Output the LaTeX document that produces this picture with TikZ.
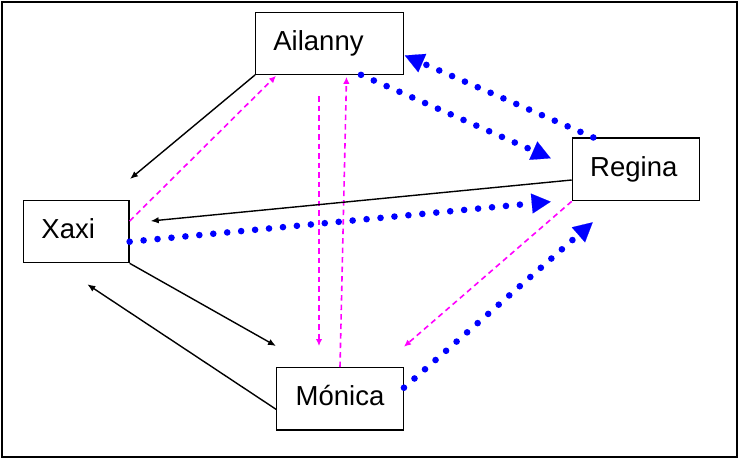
\documentclass[tikz,border=0pt]{standalone}
\usepackage{fontspec}
\setmainfont{Liberation Sans}
\usetikzlibrary{arrows.meta}
\definecolor{lnkmagenta}{RGB}{255,0,255}
\definecolor{lnkblue}{RGB}{0,0,255}

\begin{document}
\begin{tikzpicture}[x=1pt,y=-1pt,
    main node/.style={rectangle, draw, line width=1.2pt, inner sep=0pt},
    name text/.style={font=\fontsize{27.5}{33}\selectfont, text height=20pt, text depth=6pt, inner sep=0pt},
    black link/.style={line width=1.4pt, -{Latex[length=8pt,width=6.5pt]}},
    pink link/.style={lnkmagenta, line width=1.6pt, dash pattern=on 5.5pt off 4pt, -{Latex[length=7pt,width=6.5pt]}},
    dot link/.style={lnkblue, line width=6.6pt, line cap=round, dash pattern=on 0pt off 14pt,
                     -{Triangle[length=19pt,width=20pt,line width=0.1pt]}}]

  \useasboundingbox (0,0) rectangle (739,459);
  \draw[line width=2pt] (2,2) rectangle (737,457);

  %Boxes%
  \node[main node, minimum width=147.5pt, minimum height=61.5pt,
        label={[name text, xshift=-11pt]center:Ailanny}] (ail) at (329.5,43.5) {};
  \node[main node, minimum width=127pt, minimum height=62.7pt,
        label={[name text, xshift=-2pt]center:Regina}] (reg) at (635.8,169.4) {};
  \node[main node, minimum width=105.7pt, minimum height=62pt,
        label={[name text, xshift=-8pt]center:Xaxi}] (xax) at (76.2,231.7) {};
  \node[main node, minimum width=126.7pt, minimum height=62.3pt,
        label={[name text]center:Mónica}] (mon) at (340,398.8) {};

  %Free ends%
  \coordinate (xaxUp) at (130,179);
  \coordinate (pinkTop) at (319,96);
  \coordinate (pinkLow) at (319,346);
  \coordinate (regUp) at (550.7,158.3);
  \coordinate (xaxRight) at (150.7,221);
  \coordinate (regMid) at (550.7,201.7);
  \coordinate (monUp) at (404,346.7);
  \coordinate (regLow) at (592.7,222.3);
  \coordinate (monLeft) at (276,346);
  \coordinate (xaxLow) at (87.3,284.3);

  %Links%
  \draw[black link] (ail.south west) -- (xaxUp);
  \draw[pink link] ([yshift=10.7pt]xax.east) -- ([xshift=-53.5pt,yshift=-1pt]ail.south);
  \draw[pink link] (pinkTop) -- (pinkLow);
  \draw[pink link] (mon.north) -- ([xshift=17pt,yshift=-2pt]ail.south);
  \draw[dot link] ([xshift=31.5pt]ail.south) -- (regUp);
  \draw[dot link] ([xshift=-42.5pt]reg.north) -- ([xshift=1pt,yshift=-12pt]ail.east);
  \draw[black link] ([yshift=-10.6pt]reg.west) -- (xaxRight);
  \draw[dot link] ([yshift=-10pt]xax.east) -- (regMid);
  \draw[pink link] (reg.south west) -- (monUp);
  \draw[dot link] ([yshift=11.1pt]mon.east) -- (regLow);
  \draw[black link] (xax.south east) -- (monLeft);
  \draw[black link] ([yshift=-10.5pt]mon.west) -- (xaxLow);
\end{tikzpicture}
\end{document}
